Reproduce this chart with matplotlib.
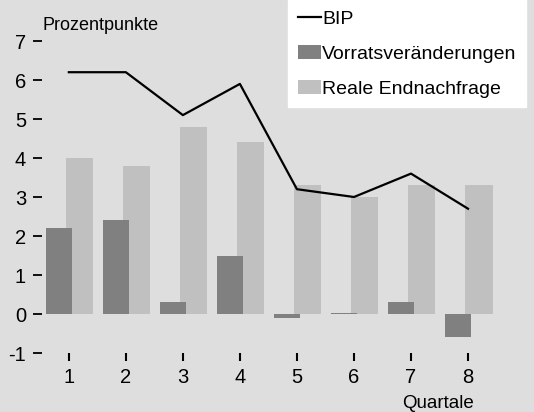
import numpy as np
import matplotlib
matplotlib.use("Agg")
import matplotlib.pyplot as plt

quartale = [1, 2, 3, 4, 5, 6, 7, 8]
bip = [6.2, 6.2, 5.1, 5.9, 3.2, 3.0, 3.6, 2.7]
vorrat = [2.2, 2.4, 0.3, 1.5, -0.1, 0.02, 0.3, -0.6]
endnachfrage = [4.0, 3.8, 4.8, 4.4, 3.3, 3.0, 3.3, 3.3]

plt.rcParams['font.family'] = ['Liberation Sans', 'DejaVu Sans']
plt.rcParams['axes.unicode_minus'] = False
bg = '#dedede'

fig = plt.figure(figsize=(5.34, 4.12), dpi=100, facecolor=bg)
ax = fig.add_axes([0.0787, 0.1432, 0.9045, 0.8046], facecolor=bg)

x = np.array(quartale)
b_end = ax.bar(x + 0.19, endnachfrage, width=0.48, color='#c0c0c0', zorder=1)
b_vor = ax.bar(x - 0.17, vorrat, width=0.46, color='#808080', zorder=2)
l_bip, = ax.plot(x, bip, color='black', lw=1.6, zorder=3)

ax.set_xlim(0.53, 9.0)
ax.set_ylim(-1, 7.5)
ax.set_yticks(range(-1, 8))
ax.set_xticks(quartale)
for s in ax.spines.values():
    s.set_visible(False)
ax.tick_params(axis='y', length=6.5, width=1.3, pad=5, labelsize=14.5)
ax.tick_params(axis='x', length=5.8, width=1.5, pad=5, labelsize=14.5)

leg = ax.legend([l_bip, b_vor, b_end], ['BIP', 'Vorratsveränderungen', 'Reale Endnachfrage'],
                loc='upper right', bbox_to_anchor=(1.002, 1.065), frameon=True,
                fontsize=14, handlelength=1.2, handleheight=0.75, handletextpad=0.05,
                labelspacing=0.88, borderpad=0.5, borderaxespad=0, fancybox=False)
leg.get_frame().set_facecolor('white')
leg.get_frame().set_edgecolor('white')
leg.get_frame().set_alpha(1)

fig.text(42 / 534, 1 - 17 / 412, 'Prozentpunkte', fontsize=13, va='top', ha='left')
fig.text(438 / 534, 4 / 412, 'Quartale', fontsize=13.5, va='baseline', ha='center')

fig.savefig('out.png', dpi=100, facecolor=bg)
